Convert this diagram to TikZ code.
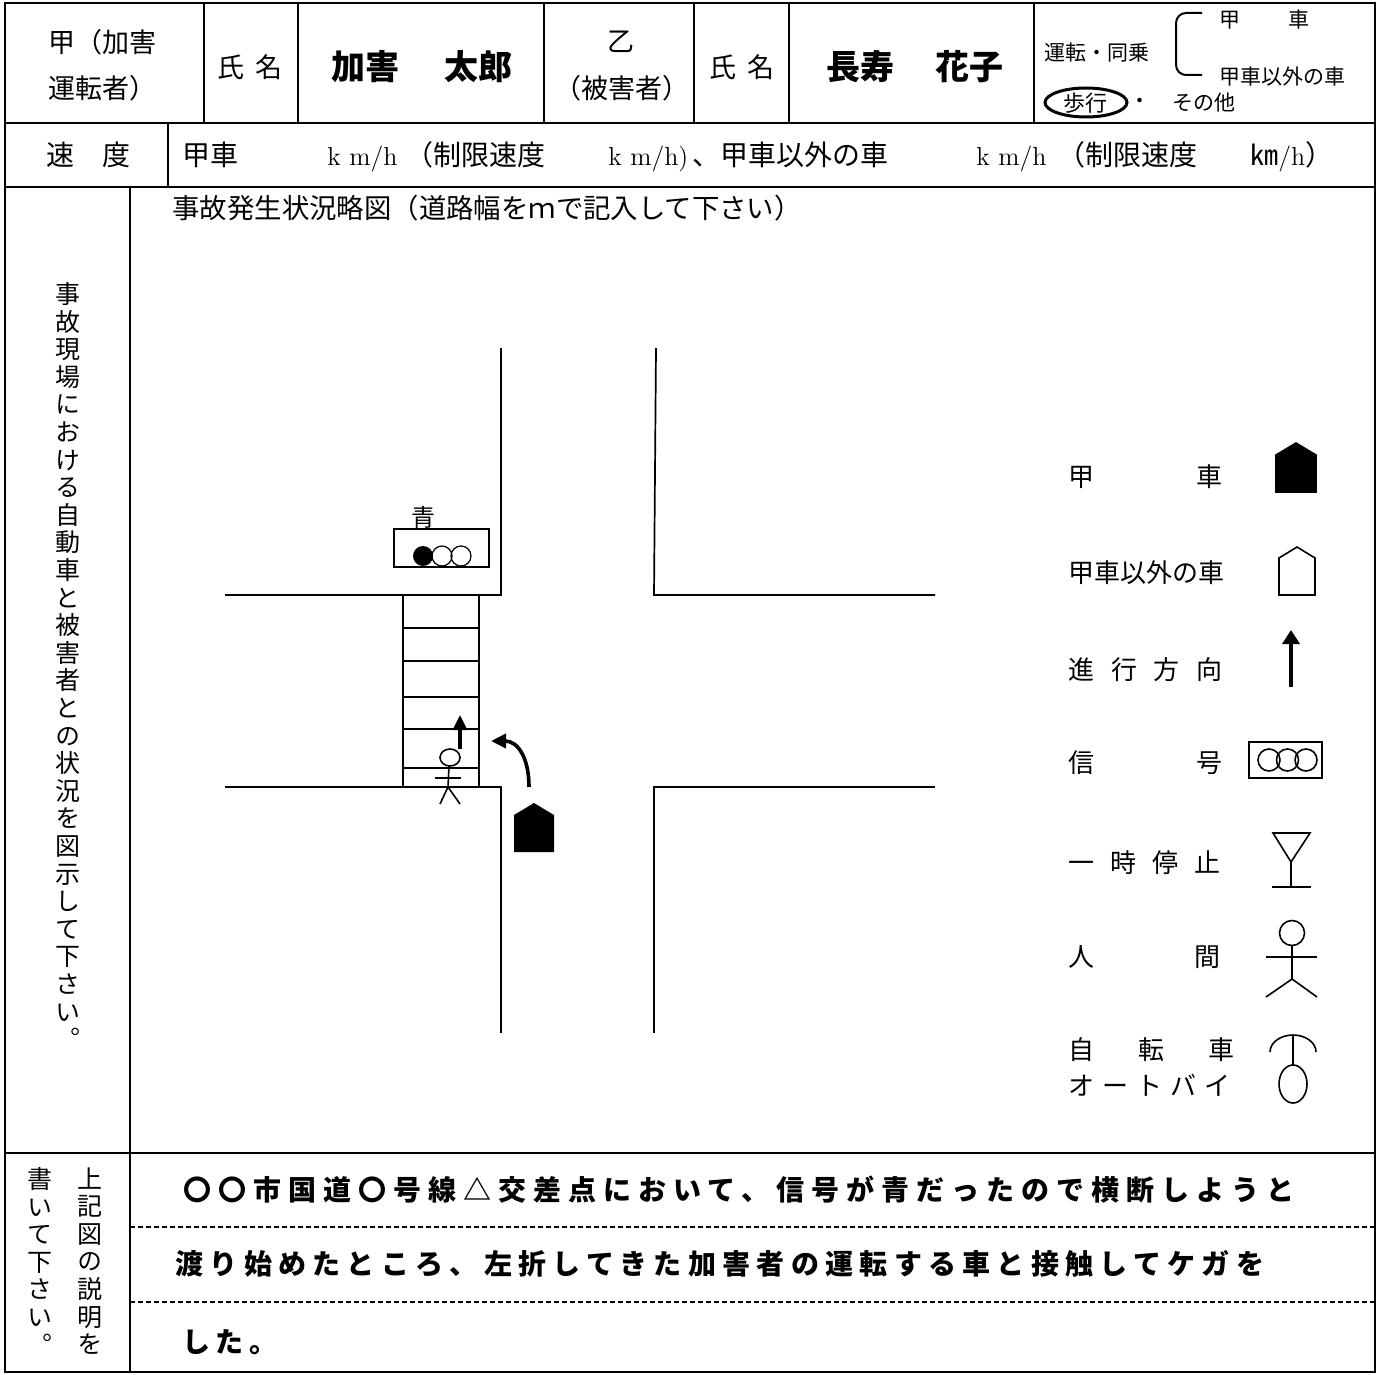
\documentclass[tikz,border=0pt]{standalone}
\usepackage{fontspec}
\newfontfamily\jp{Noto Sans CJK JP}
\newfontfamily\jpv[RawFeature=+vert]{Noto Sans CJK JP}
\usetikzlibrary{arrows.meta}
\newcommand{\spreadlabel}[2]{\makebox[#1][s]{#2}}

\begin{document}
\begin{tikzpicture}[x=0.5pt, y=-0.5pt,
    txt/.style={inner sep=0pt, font=\jp\fontsize{13.5pt}{16pt}\selectfont},
    lgd/.style={inner sep=0pt, anchor=west, font=\jp\fontsize{13pt}{15pt}\selectfont},
    small/.style={inner sep=0pt, font=\jp\fontsize{10.5pt}{12pt}\selectfont},
    bigname/.style={inner sep=0pt, font=\jp\bfseries\fontsize{17pt}{19pt}\selectfont},
    spd/.style={inner sep=0pt, anchor=base west, font=\jp\fontsize{14pt}{16pt}\selectfont},
    unit/.style={inner sep=0pt, anchor=base west, font=\rmfamily\fontsize{13pt}{15pt}\selectfont},
    vcol/.style={inner sep=0pt, anchor=north, align=center, font=\jpv\fontsize{12.5pt}{13.8pt}\selectfont},
    desc/.style={inner sep=0pt, anchor=west, font=\jp\bfseries\fontsize{14pt}{16pt}\selectfont},
    grid/.style={line width=1pt},
    road/.style={line width=0.85pt},
    thin/.style={line width=0.8pt},
    arr/.style={line width=1.6pt, -{Triangle[length=7.5pt, width=7pt]}}]
  \useasboundingbox (0,0) rectangle (1379,1374);
  % table
  \draw[line width=1.3pt] (5,3) rectangle (1375,1372);
  \draw[grid] (5,123) -- (1375,123); \draw[grid] (5,187) -- (1375,187);
  \draw[grid] (5,1153) -- (1375,1153);
  \foreach \x in {204,298,544,694,789,1034} \draw[grid] (\x,3) -- (\x,123);
  \draw[grid] (168,123) -- (168,187);
  \draw[grid] (130,187) -- (130,1372);
  \draw[line width=0.85pt, dash pattern=on 2.5pt off 1.5pt] (130,1227) -- (1375,1227);
  \draw[line width=0.85pt, dash pattern=on 2.5pt off 1.5pt] (130,1302) -- (1375,1302);

  % first row
  \node[txt, anchor=west] (kou) at (48,42) {甲（加害};
  \node[txt, anchor=west] (kou2) at (48,88) {運転者）};
  \node[txt] (shimei1) at (250,67) {氏\hspace{0.4em}名};
  \node[bigname] (kagai) at (422,67) {加害\hspace{1.3em}太郎};
  \node[txt] (otsu) at (621,42) {乙};
  \node[txt] (higai) at (622,88) {（被害者）};
  \node[txt] (shimei2) at (742,67) {氏\hspace{0.4em}名};
  \node[bigname] (chouju) at (915,67) {長寿\hspace{1.2em}花子};
  \node[small] (unten) at (1097,53) {運転・同乗};
  \draw[grid, rounded corners=5pt] (1202,13) -- (1176,13) -- (1176,75) -- (1202,75);
  \node[small, anchor=west] (kousha) at (1219,20) {\spreadlabel{45pt}{甲\hfill 車}};
  \node[small, anchor=west] (igai) at (1219,77) {甲車以外の車};
  \node[small, font=\jp\fontsize{11pt}{12pt}\selectfont] (hokou) at (1085,103) {歩行};
  \draw[line width=1.5pt] (1086,102.5) ellipse [x radius=41, y radius=14.5];
  \node[small] (naka) at (1140,103) {・};
  \node[small] (sonota) at (1204,103) {その他};

  % second row
  \node[spd] (sokudo) at (46,166) {速\hspace{1em}度};
  \node[spd] (s1) at (182,166) {甲車};
  \node[unit] (s2) at (327,166) {k m/h};
  \node[spd] (s3) at (405,166) {（制限速度};
  \node[unit] (s4) at (608,166) {k m/h)};
  \node[spd] (s5) at (692,166) {、甲車以外の車};
  \node[unit] (s6) at (976,166) {k m/h};
  \node[spd] (s7) at (1057,166) {（制限速度};
  \node[spd] (s8) at (1250,166) {㎞{\rmfamily\fontsize{13pt}{15pt}\selectfont /h}）};

  % third row
  \node[vcol] (vleft) at (68,282) {事\\故\\現\\場\\に\\お\\け\\る\\自\\動\\車\\と\\被\\害\\者\\と\\の\\状\\況\\を\\図\\示\\し\\て\\下\\さ\\い\\。};
  \node[txt, anchor=west, font=\jp\fontsize{13.7pt}{16pt}\selectfont] (title) at (172,208) {事故発生状況略図（道路幅をｍで記入して下さい）};

  % roads
  \draw[road] (225,595) -- (501,595) -- (501,348);
  \draw[road] (656,348) -- (654,595) -- (935,595);
  \draw[road] (225,787) -- (501,787) -- (501,1033);
  \draw[road] (935,787) -- (654,787) -- (654,1033);
  % crosswalk
  \draw[road] (403,595) rectangle (479,787);
  \foreach \y in {628,661,697,729,768} \draw[road] (403,\y) -- (479,\y);
  % signal
  \node[inner sep=0pt, font=\jp\fontsize{12pt}{14pt}\selectfont] (ao) at (423,517) {青};
  \draw[thin] (394,529) rectangle (489,567);
  \fill (423,556) circle [radius=10];
  \draw[line width=0.6pt] (442,556) circle [radius=10];
  \draw[line width=0.6pt] (461,556) circle [radius=10];
  % pedestrian
  \draw[thin] (450,757.5) ellipse [x radius=10, y radius=8.5];
  \draw[thin] (449,766) -- (448,787) -- (440,804);
  \draw[thin] (448,787) -- (460,804);
  \draw[thin] (435,778) -- (461,778);
  \coordinate (walk0) at (460,749); \coordinate (walk1) at (460,715);
  \draw[arr] (walk0) -- (walk1);
  % car turning
  \fill (514,852) -- (514,815) -- (534,803) -- (554,815) -- (554,852) -- cycle;
  \coordinate (turn0) at (529,787); \coordinate (turn1) at (491,741);
  \draw[arr, line width=1.8pt] (turn0) .. controls (529,758) and (518,741) .. (turn1);

  % legend
  \node[lgd] (lg1) at (1068,477) {\spreadlabel{77pt}{甲\hfill 車}};
  \node[lgd] (lg2) at (1068,573) {甲車以外の車};
  \node[lgd] (lg3) at (1068,670) {\spreadlabel{77pt}{進\hfill 行\hfill 方\hfill 向}};
  \node[lgd] (lg4) at (1068,763) {\spreadlabel{77pt}{信\hfill 号}};
  \node[lgd] (lg5) at (1068,863) {\spreadlabel{76pt}{一\hfill 時\hfill 停\hfill 止}};
  \node[lgd] (lg6) at (1068,957) {\spreadlabel{76pt}{人\hfill 間}};
  \node[lgd] (lg7) at (1068,1050) {\spreadlabel{83pt}{自\hfill 転\hfill 車}};
  \node[lgd] (lg8) at (1068,1085) {\spreadlabel{81pt}{オ\hfill ー\hfill ト\hfill バ\hfill イ}};
  \draw[thin, fill=black] (1276,492) -- (1276,455) -- (1296,443) -- (1316,455) -- (1316,492) -- cycle;
  \draw[thin] (1279,595) -- (1279,558) -- (1297,547) -- (1315,558) -- (1315,595) -- cycle;
  \coordinate (dir0) at (1291,687); \coordinate (dir1) at (1291,630);
  \draw[line width=2pt, -{Triangle[length=7pt, width=8.5pt]}] (dir0) -- (dir1);
  \draw[thin] (1249,742) rectangle (1322,778);
  \foreach \cx in {1269,1287.5,1306} \draw[thin] (\cx,760) circle [radius=11];
  \draw[thin] (1273,833) -- (1310,833) -- (1291,862) -- cycle;
  \draw[thin] (1291,862) -- (1291,887);
  \draw[thin] (1272,887) -- (1311,887);
  \draw[thin] (1292,933) circle [radius=12.5];
  \draw[thin] (1292,945.5) -- (1292,979) -- (1266,997);
  \draw[thin] (1292,979) -- (1317,997);
  \draw[thin] (1266,957) -- (1317,957);
  \draw[thin] (1270,1052) arc [start angle=180, end angle=360, x radius=23, y radius=17];
  \draw[thin] (1293,1035) -- (1293,1065);
  \draw[thin] (1293,1084) ellipse [x radius=14, y radius=19];

  % fourth row
  \node[vcol] (vb1) at (90,1167) {上\\記\\図\\の\\説\\明\\を};
  \node[vcol] (vb2) at (40,1167) {書\\い\\て\\下\\さ\\い\\。};
  \node[desc] (d1) at (183,1190) {\addfontfeature{LetterSpace=25}〇〇市国道〇号線△交差点において、信号が青だったので横断しようと};
  \node[desc] (d2) at (175,1264) {\addfontfeature{LetterSpace=22.5}渡り始めたところ、左折してきた加害者の運転する車と接触してケガを};
  \node[desc] (d3) at (182,1342) {\addfontfeature{LetterSpace=20}した。};
\end{tikzpicture}
\end{document}
